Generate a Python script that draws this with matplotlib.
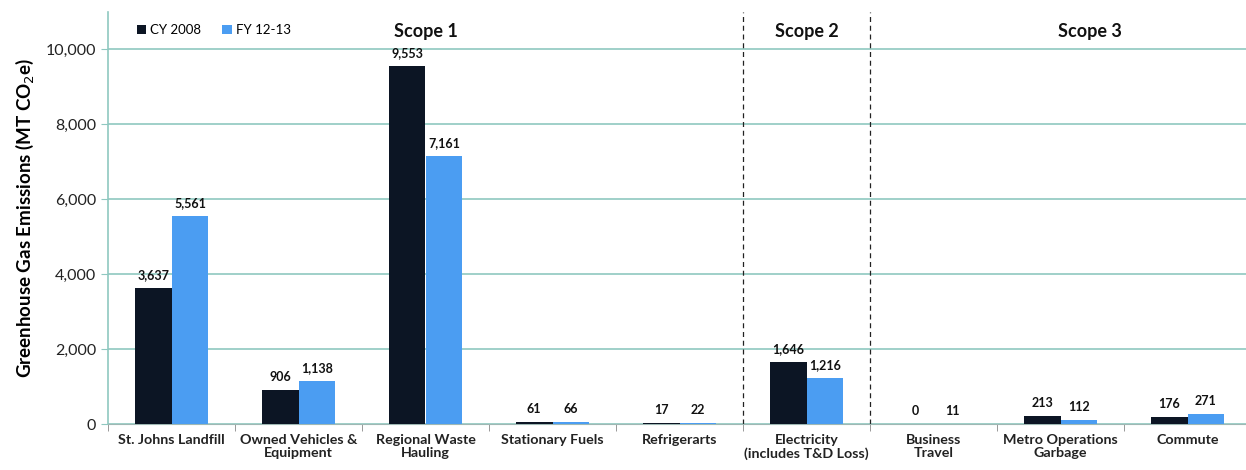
import matplotlib
matplotlib.use("Agg")
import matplotlib.pyplot as plt
import numpy as np

categories = ["St. Johns Landfill", "Owned Vehicles &\nEquipment", "Regional Waste\nHauling",
              "Stationary Fuels", "Refrigerarts", "Electricity\n(includes T&D Loss)",
              "Business\nTravel", "Metro Operations\nGarbage", "Commute"]
cy2008 = [3637, 906, 9553, 61, 17, 1646, 0, 213, 176]
fy1213 = [5561, 1138, 7161, 66, 22, 1216, 11, 112, 271]
series_names = ["CY 2008", "FY 12-13"]
scope_labels = ["Scope 1", "Scope 2", "Scope 3"]
yticks = [0, 2000, 4000, 6000, 8000, 10000]

plt.rcParams['font.family'] = ['Lato', 'DejaVu Sans']

W, H = 1246, 470
fig = plt.figure(figsize=(W / 100, H / 100), dpi=100)
ax = fig.add_axes([108 / W, 46 / H, 1143 / W, 412 / H])

dark = "#0c1524"
blue = "#4b9df2"
grid = "#8fc8c0"

x = np.arange(len(categories))
bw = 0.29
b1 = ax.bar(x - bw / 2, cy2008, bw, color=dark, label=series_names[0], zorder=3)
b2 = ax.bar(x + bw / 2, fy1213, bw, color=blue, label=series_names[1], zorder=3)

for bars in (b1, b2):
    for rect in bars:
        v = rect.get_height()
        ax.annotate(f"{v:,.0f}", (rect.get_x() + rect.get_width() / 2, v),
                    xytext=(0, 5), textcoords="offset points", ha="center", va="bottom",
                    fontsize=9, fontweight="bold", color="#111111", zorder=4)

ax.set_xlim(-0.5, len(categories) - 0.5)
ax.set_ylim(0, 11000)
ax.set_yticks(yticks)
ax.set_yticklabels([f"{v:,}" for v in yticks], fontsize=11.5, color="#222222")
ax.yaxis.grid(True, color=grid, linewidth=1.2, zorder=0)
ax.set_axisbelow(True)

ax.set_xticks(x)
ax.set_xticklabels(categories, fontsize=10.3, fontweight="bold", color="#222222",
                   linespacing=1.15)
ax.tick_params(axis="x", length=0, pad=7)
ax.set_xticks(np.arange(-0.5, len(categories), 1), minor=True)
ax.tick_params(axis="x", which="minor", length=5, color="#888888")
ax.tick_params(axis="y", length=5, color=grid)

for s in ("top", "right"):
    ax.spines[s].set_visible(False)
ax.spines["left"].set_color(grid)
ax.spines["left"].set_linewidth(1.2)
ax.spines["bottom"].set_color("#9fb8b4")

ax.set_ylabel("Greenhouse Gas Emissions (MT CO$_2$e)", fontsize=13.5, fontweight="bold",
              labelpad=7)

for xb in (4.5, 5.5):
    ax.axvline(xb, color="#222222", linestyle=(0, (4, 3)), linewidth=0.9, zorder=2)

for label, xc in zip(scope_labels, (2.0, 5.0, 7.23)):
    ax.text(xc, 10480, label, ha="center", va="center", fontsize=13, fontweight="bold",
            color="#111111")

ax.legend(loc="upper left", bbox_to_anchor=(0.015, 1.0), ncol=2, frameon=False,
          fontsize=9.5, handlelength=0.7, handleheight=0.7, handletextpad=0.3,
          columnspacing=1.6)

fig.savefig("out.png", dpi=100, facecolor="white")
